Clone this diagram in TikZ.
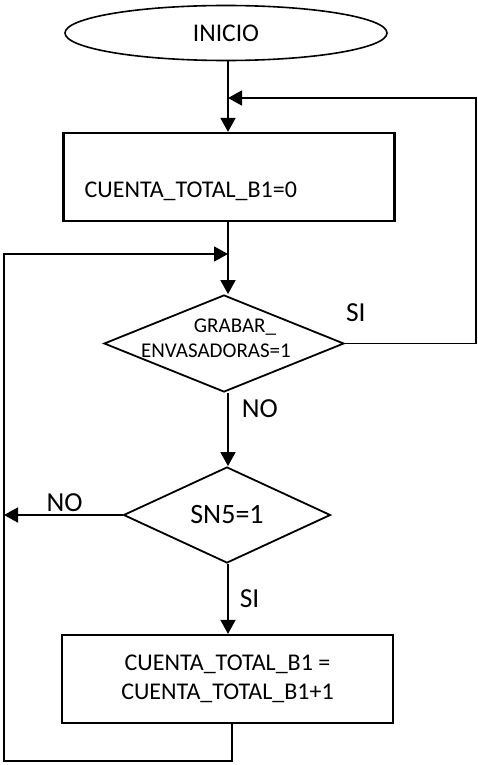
\documentclass[tikz,border=0pt]{standalone}
\usepackage{fontspec}
\setmainfont{Carlito}
\usetikzlibrary{arrows.meta,shapes.geometric}
\tikzset{
	terminal/.style={draw, ellipse, line width=1.6pt, minimum width=322pt, minimum height=55pt, inner sep=0pt, font=\fontsize{25.5}{30}\selectfont},
	proceso/.style={draw, rectangle, line width=2.2pt, minimum width=331pt, minimum height=88pt, inner sep=0pt, align=center, font=\fontsize{24}{29}\selectfont},
	decision/.style={draw, diamond, line width=1.8pt, inner sep=0pt},
	flecha/.style={line width=1.7pt, -{Triangle[length=14pt,width=15pt]}},
	etiqueta/.style={inner sep=0pt, anchor=base west, font=\fontsize{27.5}{33}\selectfont}
}

\begin{document}
\begin{tikzpicture}[x=1pt, y=-1pt]
	\useasboundingbox (0,0) rectangle (477,765);

	\node[terminal] (inicio) at (226,33) {INICIO};
	\node[proceso] (cero) at (229,177) {};
	\node[inner sep=0pt, anchor=base west, font=\fontsize{24}{29}\selectfont] (textocero) at ([xshift=22pt,yshift=-20pt]cero.west) {CUENTA\_TOTAL\_B1=0};
	\node[decision, minimum width=240pt, minimum height=97pt] (grabar) at (224,343.5) {};
	\node[align=center, inner sep=0pt, font=\fontsize{21}{25}\selectfont] (textograbar) at ([xshift=-8pt,yshift=5pt]grabar.center) {\hspace*{38pt}GRABAR\_\\ENVASADORAS=1};
	\node[decision, minimum width=207pt, minimum height=96pt, font=\fontsize{28}{33}\selectfont] (sn) at (227,515) {SN5=1};
	\node[proceso] (suma) at (227.5,679) {CUENTA\_TOTAL\_B1 =\\CUENTA\_TOTAL\_B1+1};

	% puntos de union de los lazos
	\coordinate (uneA) at (228,98);
	\coordinate (uneB) at (228,254);
	\coordinate (derecha) at (476,98);
	\coordinate (abajo) at (4,761);

	\draw[flecha] (uneA |- inicio.south) -- (uneA |- cero.north);
	\draw[flecha] (cero.south -| uneB) -- (uneB |- grabar.north);
	\draw[flecha] (grabar.east) -| (derecha) -- (uneA);
	\node[etiqueta] (si1) at ([xshift=1pt,yshift=22pt]grabar.east) {SI};
	\draw[flecha] (grabar.south -| uneB) -- (uneB |- sn.north) node[etiqueta, pos=.33, xshift=13pt] {NO};
	\draw[flecha] (sn.west) -- (sn.west -| abajo) node[etiqueta, pos=.49, anchor=base, yshift=4pt] {NO};
	\draw[flecha] (sn.south -| uneB) -- (uneB |- suma.north) node[etiqueta, pos=.62, xshift=11pt] {SI};
	\draw[flecha] ([xshift=4.5pt]suma.south) |- (abajo) |- (uneB);
\end{tikzpicture}
\end{document}
